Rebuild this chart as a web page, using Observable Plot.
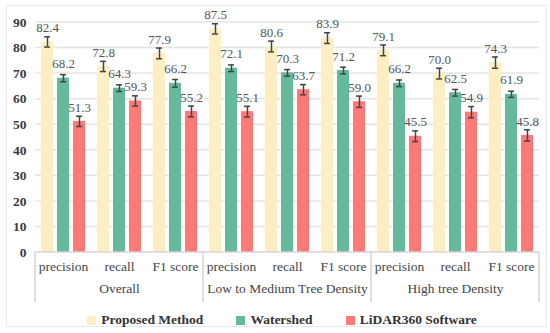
<!DOCTYPE html>
<html>
<head>
<meta charset="utf-8">
<script src="https://cdn.jsdelivr.net/npm/d3@7"></script>
<script src="https://cdn.jsdelivr.net/npm/@observablehq/plot@0.6"></script>
<style>
  html, body { margin: 0; padding: 0; background: #fff; }
  #wrap { position: relative; width: 550px; height: 333px; overflow: hidden; }
  #border { position: absolute; left: 6px; top: 5px; width: 539px; height: 320px; border: 1px solid #e9e9e9; }
  #chart { position: absolute; left: 0; top: 0; }
  #chart svg, #chart svg text { font-family: "Liberation Serif", "Times New Roman", serif !important; }
  #legend { position: absolute; left: 7px; top: 311px; width: 550px; height: 18px; display: flex; justify-content: center; align-items: center; gap: 0;
    font-family: "Liberation Serif", serif; font-weight: bold; font-size: 13.5px; color: #333; }
  .item { display: flex; align-items: center; }
  .sw { width: 9px; height: 9px; margin-right: 5px; }
</style>
</head>
<body>
<div id="wrap">
  <div id="border"></div>
  <div id="chart"></div>
  <div id="legend"></div>
</div>
<script>
const groups = ["Overall", "Low to Medium Tree Density", "High tree Density"];
const metrics = ["precision", "recall", "F1 score"];
const seriesNames = ["Proposed Method", "Watershed", "LiDAR360 Software"];
const proposed = [82.4, 72.8, 77.9, 87.5, 80.6, 83.9, 79.1, 70.0, 74.3];
const watershed = [68.2, 64.3, 66.2, 72.1, 70.3, 71.2, 66.2, 62.5, 61.9];
const lidar = [51.3, 59.3, 55.2, 55.1, 63.7, 59.0, 45.5, 54.9, 45.8];
const proposedErr = [2.0, 2.0, 2.1, 2.0, 2.1, 2.1, 2.1, 2.1, 2.2];
const watershedErr = [1.4, 1.3, 1.5, 1.3, 1.3, 1.3, 1.3, 1.3, 1.2];
const lidarErr = [2.0, 2.0, 2.1, 2.1, 2.0, 2.2, 2.1, 2.2, 2.2];
const colors = ["#FEEFC3", "#65B99C", "#FF7979"];
const yTicks = [0, 10, 20, 30, 40, 50, 60, 70, 80, 90];

const keys = [];
groups.forEach(g => metrics.forEach(m => keys.push(g + "|" + m)));
const seriesValues = [proposed, watershed, lidar];
const seriesErrs = [proposedErr, watershedErr, lidarErr];
const rows = [];
keys.forEach((k, i) => {
  seriesNames.forEach((s, j) => {
    rows.push({key: k, series: s, value: seriesValues[j][i], err: seriesErrs[j][i]});
  });
});
const groupRows = groups.map(g => ({group: g, key: g + "|recall"}));

const font = "'Liberation Serif', 'Times New Roman', serif";

const chart = Plot.plot({
  width: 550,
  height: 305,
  marginTop: 22,
  marginBottom: 53,
  marginLeft: 33,
  marginRight: 9,
  style: {fontFamily: font, background: "transparent", overflow: "visible"},
  fx: {domain: keys, paddingInner: 0.185, paddingOuter: 0.0925},
  x: {domain: seriesNames, paddingInner: 0.22, paddingOuter: 0},
  y: {domain: [0, 90]},
  color: {domain: seriesNames, range: colors},
  marks: [
    Plot.axisY({ticks: yTicks, tickSize: 0, tickPadding: 14, fontSize: 13.5, fontWeight: "bold", fill: "#3a3a3a", label: null, fontFamily: font}),
    Plot.axisFx({anchor: "bottom", tickSize: 0, tickPadding: 9, tickFormat: k => k.split("|")[1], fontSize: 13.5, fill: "#444", label: null, fontFamily: font}),
    Plot.axisX({ticks: [], label: null, tickSize: 0}),
    Plot.barY(rows, {fx: "key", x: "series", y: "value", fill: "series"}),
    Plot.ruleX(rows, {fx: "key", x: "series", y1: d => d.value - d.err, y2: d => d.value + d.err, stroke: "#444", strokeWidth: 1.5}),
    Plot.tickY(rows, {fx: "key", x: "series", y: d => d.value - d.err, stroke: "#444", strokeWidth: 1.5, inset: 3}),
    Plot.tickY(rows, {fx: "key", x: "series", y: d => d.value + d.err, stroke: "#444", strokeWidth: 1.5, inset: 3}),
    Plot.text(rows, {fx: "key", x: "series", y: "value", dy: -14, text: d => d.value.toFixed(1), fontSize: 13, fill: "#555", fontFamily: font}),
    Plot.text(groupRows, {fx: "key", frameAnchor: "bottom", dy: 40, text: "group", fontSize: 13.5, fill: "#444", fontFamily: font})
  ]
});
document.getElementById("chart").appendChild(chart);

// Continuous gridlines, baseline and group dividers from Plot's scales
const svg = d3.select(chart);
const y = chart.scale("y");
const fx = chart.scale("fx");
const gap = fx.step - fx.bandwidth;
const xLeft = fx.apply(keys[0]) - gap / 2;
const xRight = fx.apply(keys[keys.length - 1]) + fx.bandwidth + gap / 2;
const bg = svg.insert("g", "g");
yTicks.filter(t => t > 0).forEach(t => {
  bg.append("line").attr("x1", xLeft).attr("x2", xRight)
    .attr("y1", y.apply(t)).attr("y2", y.apply(t))
    .attr("stroke", "#e4e4e4").attr("stroke-width", 1.5);
});
const fg = svg.append("g");
const y0 = y.apply(0);
fg.append("line").attr("x1", xLeft).attr("x2", xRight).attr("y1", y0).attr("y2", y0)
  .attr("stroke", "#d4d4d4").attr("stroke-width", 1.5);
const dividerX = [xLeft];
groups.forEach(g => {
  dividerX.push(fx.apply(g + "|F1 score") + fx.bandwidth + gap / 2);
});
dividerX.forEach(xv => {
  fg.append("line").attr("x1", xv).attr("x2", xv).attr("y1", y0).attr("y2", y0 + 50)
    .attr("stroke", "#d4d4d4").attr("stroke-width", 1.5);
});

// Legend
const legend = document.getElementById("legend");
seriesNames.forEach((s, i) => {
  const item = document.createElement("div");
  item.className = "item";
  if (i > 0) item.style.marginLeft = "33px";
  const sw = document.createElement("div");
  sw.className = "sw";
  sw.style.background = colors[i];
  const t = document.createElement("span");
  t.textContent = s;
  item.appendChild(sw);
  item.appendChild(t);
  legend.appendChild(item);
});
</script>
</body>
</html>
